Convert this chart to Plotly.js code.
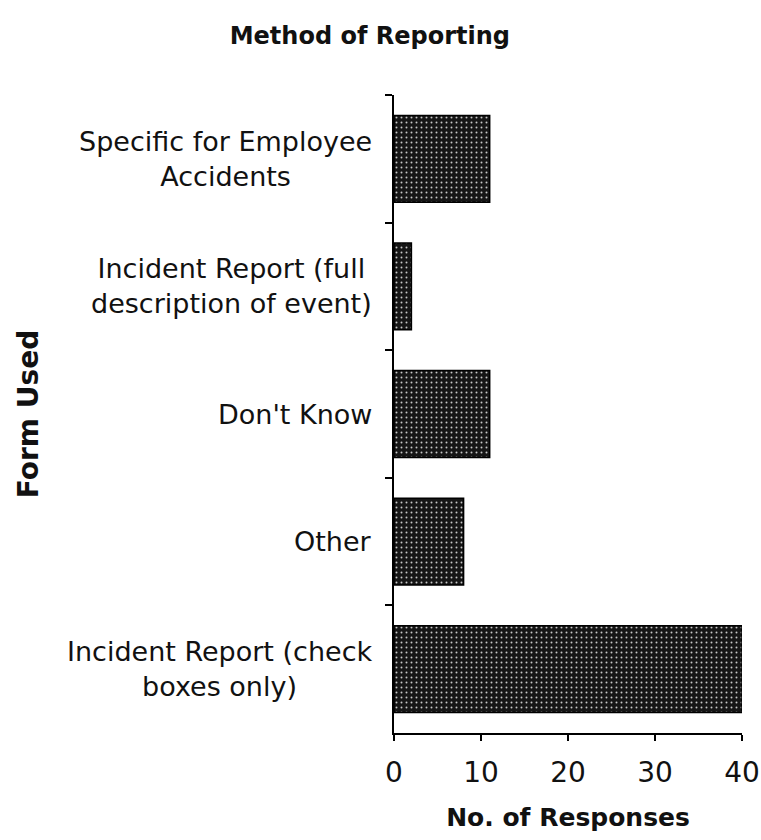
<!DOCTYPE html>
<html>
<head>
<meta charset="utf-8">
<script src="https://cdn.plot.ly/plotly-3.0.1.min.js"></script>
<style>html,body{margin:0;padding:0;background:#fff;}</style>
</head>
<body>
<div id="chart" style="width:761px;height:840px;"></div>
<script>
// Data
const categories = [
  "Specific for Employee<br>Accidents",
  "Incident Report (full<br>description of event)",
  "Don't Know",
  "Other",
  "Incident Report (check<br>boxes only)"
];
const responses = [11, 2, 11, 8, 40];
const xTickValues = [0, 10, 20, 30, 40];

const FONT = "DejaVu Sans, Verdana, sans-serif";

const trace = {
  type: "bar",
  orientation: "h",
  y: categories,
  x: responses,
  marker: {
    color: "#161616",
    line: {color: "#000", width: 1.5},
    pattern: {shape: ".", fgcolor: "#c8c8c8", bgcolor: "#161616", size: 5, solidity: 0.12}
  },
  hoverinfo: "x+y"
};

const annotations = categories.map(c => ({
  xref: "paper", yref: "y", x: 0, y: c,
  xanchor: "right", yanchor: "middle", align: "center",
  xshift: -20, showarrow: false, text: c,
  font: {family: FONT, size: 27, color: "#111"}
}));

const layout = {
  width: 761, height: 840,
  margin: {l: 394, r: 19, t: 95, b: 107},
  paper_bgcolor: "#fff", plot_bgcolor: "#fff",
  showlegend: false,
  bargap: 0.32,
  title: {
    text: "<b>Method of Reporting</b>",
    xref: "container", x: 0.486, xanchor: "center",
    yref: "container", y: 0.958, yanchor: "middle",
    font: {family: FONT, size: 24, color: "#111"}
  },
  xaxis: {
    range: [0, 40], tickvals: xTickValues, ticktext: xTickValues.map(String),
    showgrid: false, zeroline: false,
    showline: true, linecolor: "#000", linewidth: 2,
    ticks: "outside", ticklen: 6, tickwidth: 2, tickcolor: "#000",
    ticklabelstandoff: 7,
    tickfont: {family: FONT, size: 28, color: "#111"},
    title: {text: "<b>No. of Responses</b>", standoff: 21,
            font: {family: FONT, size: 25, color: "#111"}}
  },
  yaxis: {
    type: "category", categoryorder: "array", categoryarray: categories,
    autorange: false, range: [4.5, -0.5],
    showticklabels: false, tickson: "boundaries",
    showgrid: false, zeroline: false,
    showline: true, linecolor: "#000", linewidth: 2,
    ticks: "outside", ticklen: 7, tickwidth: 2, tickcolor: "#000",
    title: {text: "<b>Form Used</b>", standoff: 345,
            font: {family: FONT, size: 28, color: "#111"}}
  },
  annotations: annotations
};

Plotly.newPlot("chart", [trace], layout, {displayModeBar: false, staticPlot: true});
</script>
</body>
</html>
